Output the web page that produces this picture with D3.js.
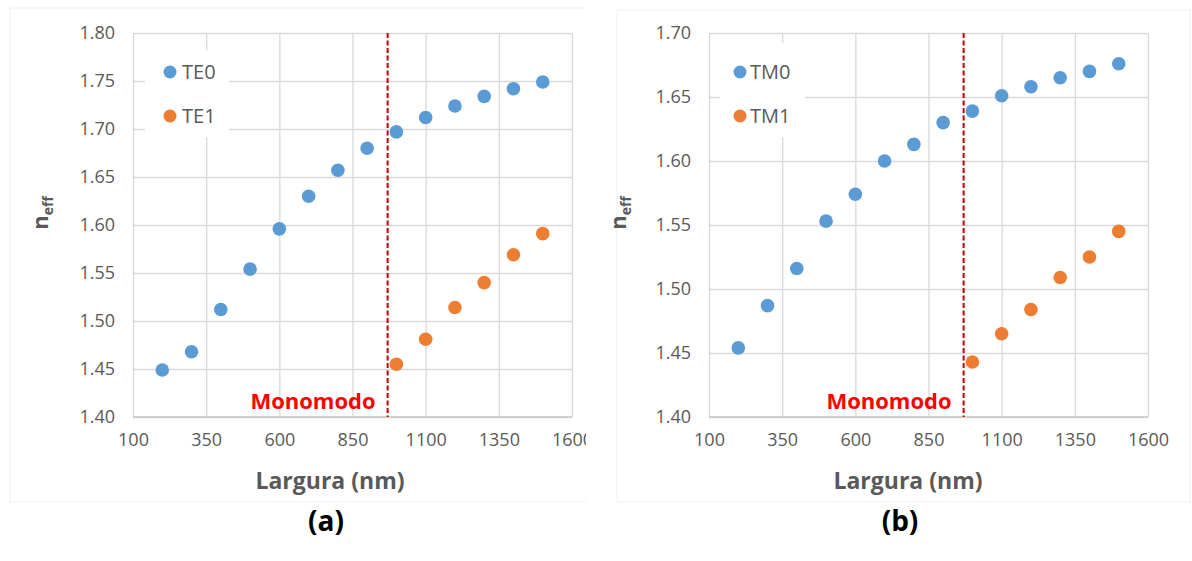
<!DOCTYPE html>
<html>
<head>
<meta charset="utf-8">
<script src="https://cdn.jsdelivr.net/npm/d3@7"></script>
<style>
  html, body { margin: 0; padding: 0; background: #fff; }
  svg { display: block; font-family: "Open Sans", "Liberation Sans", sans-serif; }
</style>
</head>
<body>
<svg id="chart" width="1192" height="561"></svg>
<script>
// Waveguide width (nm) for each simulated point
const widths = [200, 300, 400, 500, 600, 700, 800, 900, 1000, 1100, 1200, 1300, 1400, 1500];
const widthsHigh = [1000, 1100, 1200, 1300, 1400, 1500];

// Effective index, TE polarisation
const te0 = [1.449, 1.468, 1.512, 1.554, 1.596, 1.630, 1.657, 1.680, 1.697, 1.712, 1.724, 1.734, 1.742, 1.749];
const te1 = [1.455, 1.481, 1.514, 1.540, 1.569, 1.591];

// Effective index, TM polarisation
const tm0 = [1.454, 1.487, 1.516, 1.553, 1.574, 1.600, 1.613, 1.630, 1.639, 1.651, 1.658, 1.665, 1.670, 1.676];
const tm1 = [1.443, 1.465, 1.484, 1.509, 1.525, 1.545];

// Axis ticks
const xTicks = [100, 350, 600, 850, 1100, 1350, 1600];
const yTicksTE = [1.40, 1.45, 1.50, 1.55, 1.60, 1.65, 1.70, 1.75, 1.80];
const yTicksTM = [1.40, 1.45, 1.50, 1.55, 1.60, 1.65, 1.70];

// Single-mode cutoff width (nm)
const cutoff = 970;

const BLUE = "#5b9bd5", ORANGE = "#ed7d31";
const svg = d3.select("#chart");

const panels = [
  {
    id: "a", series: [{ name: "TE0", xs: widths, ys: te0, color: BLUE },
                      { name: "TE1", xs: widthsHigh, ys: te1, color: ORANGE }],
    yTicks: yTicksTE, yDomain: [1.40, 1.80],
    plot: { x0: 133, x1: 572 }, frame: { x: 10, y: 8, w: 600, h: 494 },
    clip: { x: 0, w: 586 },
    legend: { x: 145, y: 50, w: 84, h: 87, dotX: 170, textX: 182 },
    yLabelX: 48, xTitleX: 330, tagX: 326
  },
  {
    id: "b", series: [{ name: "TM0", xs: widths, ys: tm0, color: BLUE },
                      { name: "TM1", xs: widthsHigh, ys: tm1, color: ORANGE }],
    yTicks: yTicksTM, yDomain: [1.40, 1.70],
    plot: { x0: 709, x1: 1148 }, frame: { x: 617, y: 10, w: 573, h: 492 },
    clip: { x: 600, w: 592 },
    legend: { x: 720, y: 43, w: 85, h: 94, dotX: 740, textX: 750 },
    yLabelX: 626, xTitleX: 908, tagX: 900
  }
];

const Y0 = 33, Y1 = 417;

panels.forEach(p => {
  const clipId = "clip-" + p.id;
  svg.append("clipPath").attr("id", clipId)
    .append("rect").attr("x", p.clip.x).attr("y", 0)
    .attr("width", p.clip.w).attr("height", 561);

  const g = svg.append("g").attr("clip-path", `url(#${clipId})`);

  // chart frame
  g.append("rect")
    .attr("x", p.frame.x).attr("y", p.frame.y)
    .attr("width", p.frame.w).attr("height", p.frame.h)
    .attr("fill", "none").attr("stroke", "#f0f0f0").attr("stroke-width", 1);

  const x = d3.scaleLinear().domain([100, 1600]).range([p.plot.x0, p.plot.x1]);
  const y = d3.scaleLinear().domain(p.yDomain).range([Y1, Y0]);
  const plotW = p.plot.x1 - p.plot.x0, plotH = Y1 - Y0;

  // horizontal gridlines
  g.append("g").attr("transform", `translate(${p.plot.x0},0)`)
    .call(d3.axisLeft(y).tickValues(p.yTicks).tickSize(-plotW).tickFormat(""))
    .call(a => a.select(".domain").remove())
    .call(a => a.selectAll("line").attr("stroke", "#d9d9d9").attr("stroke-width", 1.3));

  // vertical gridlines
  g.append("g").attr("transform", `translate(0,${Y1})`)
    .call(d3.axisBottom(x).tickValues(xTicks).tickSize(-plotH).tickFormat(""))
    .call(a => a.select(".domain").remove())
    .call(a => a.selectAll("line").attr("stroke", "#d9d9d9").attr("stroke-width", 1.3));

  // bottom axis line
  g.append("line")
    .attr("x1", p.plot.x0).attr("x2", p.plot.x1).attr("y1", Y1).attr("y2", Y1)
    .attr("stroke", "#c8c8c8").attr("stroke-width", 1.5);

  // y tick labels
  g.append("g").attr("transform", `translate(${p.plot.x0 - 18},0)`)
    .call(d3.axisLeft(y).tickValues(p.yTicks).tickSize(0).tickPadding(0).tickFormat(d3.format(".2f")))
    .call(a => a.select(".domain").remove())
    .call(a => a.selectAll("text").attr("fill", "#595959")
      .style("font-size", "18px").style("font-family", "'Open Sans', sans-serif"));

  // x tick labels
  g.append("g").attr("transform", `translate(0,${Y1 + 16})`)
    .call(d3.axisBottom(x).tickValues(xTicks).tickSize(0).tickPadding(0).tickFormat(d3.format("d")))
    .call(a => a.select(".domain").remove())
    .call(a => a.selectAll("text").attr("fill", "#595959")
      .style("font-size", "18px").style("font-family", "'Open Sans', sans-serif"));

  // single-mode cutoff marker
  g.append("line")
    .attr("x1", x(cutoff)).attr("x2", x(cutoff)).attr("y1", Y0).attr("y2", Y1)
    .attr("stroke", "#c00000").attr("stroke-width", 2).attr("stroke-dasharray", "5,2.5");

  g.append("text")
    .attr("x", x(cutoff) - 12).attr("y", 409)
    .attr("text-anchor", "end")
    .attr("fill", "#ff0000").style("font-size", "22px").style("font-weight", "bold")
    .text("Monomodo");

  // legend
  g.append("rect")
    .attr("x", p.legend.x).attr("y", p.legend.y)
    .attr("width", p.legend.w).attr("height", p.legend.h).attr("fill", "#fff");
  const legY = [72, 116];
  p.series.forEach((s, i) => {
    g.append("circle").attr("cx", p.legend.dotX).attr("cy", legY[i]).attr("r", 6.5).attr("fill", s.color);
    g.append("text").attr("x", p.legend.textX).attr("y", legY[i]).attr("dy", "0.35em")
      .attr("fill", "#595959").style("font-size", "20px").text(s.name);
  });

  // data points
  p.series.forEach(s => {
    g.append("g").selectAll("circle")
      .data(s.xs.map((v, i) => [v, s.ys[i]]))
      .join("circle")
      .attr("cx", d => x(d[0])).attr("cy", d => y(d[1]))
      .attr("r", 6.8).attr("fill", s.color);
  });

  // axis titles
  g.append("text")
    .attr("x", p.xTitleX).attr("y", 489).attr("text-anchor", "middle")
    .attr("fill", "#595959").style("font-size", "23px").style("font-weight", "bold")
    .text("Largura (nm)");

  const yl = g.append("text")
    .attr("transform", `translate(${p.yLabelX},213) rotate(-90)`)
    .attr("text-anchor", "middle")
    .attr("fill", "#595959").style("font-weight", "bold");
  yl.append("tspan").style("font-size", "22px").text("n");
  yl.append("tspan").style("font-size", "14px").attr("dy", "5").text("eff");

  // panel tag
  svg.append("text")
    .attr("x", p.tagX).attr("y", 531).attr("text-anchor", "middle")
    .attr("fill", "#000").style("font-size", "28px").style("font-weight", "bold")
    .text(`(${p.id})`);
});
</script>
</body>
</html>
